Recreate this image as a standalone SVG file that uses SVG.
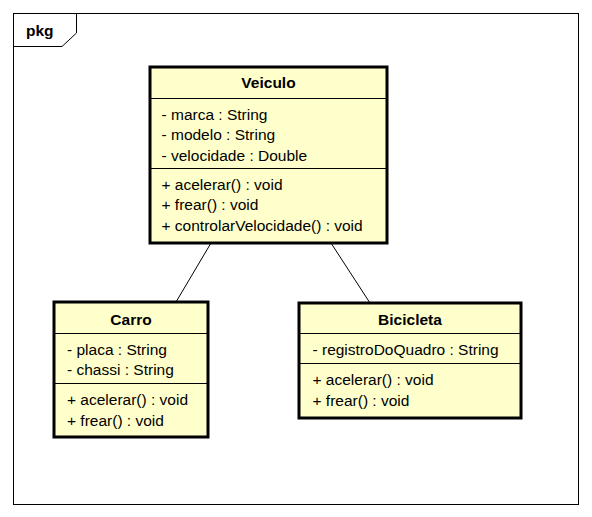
<svg xmlns="http://www.w3.org/2000/svg" width="592" height="517" viewBox="0 0 592 517">
<style>
.box{fill:#ffffcc;stroke:#000;stroke-width:3}
.div{stroke:#000;stroke-width:1}
.t{font-family:"Liberation Sans",Arial,sans-serif;font-size:15.5px;fill:#000}
.b{font-family:"Liberation Sans",Arial,sans-serif;font-size:15.5px;font-weight:bold;fill:#000;text-anchor:middle}
.edge{stroke:#000;stroke-width:1;fill:none}
</style>
<rect x="0" y="0" width="592" height="517" fill="#fff"/>
<g id="pkg">
<rect x="13.5" y="13.5" width="565" height="491" fill="none" stroke="#000" stroke-width="1"/>
<path d="M13.5 46.5 H62 L76.5 33 V13.5" fill="none" stroke="#000" stroke-width="1"/>
<text x="26" y="36" class="b" style="text-anchor:start">pkg</text>
</g>
<g id="connectors">
<line class="edge" x1="211" y1="243" x2="176" y2="302"/>
<line class="edge" x1="331" y1="243" x2="370" y2="303"/>
</g>
<g id="Veiculo">
<rect class="box" x="150" y="67" width="237" height="176"/>
<line class="div" x1="150" y1="98.5" x2="387" y2="98.5"/>
<line class="div" x1="150" y1="168.5" x2="387" y2="168.5"/>
<text class="b" x="268.5" y="88">Veiculo</text>
<text class="t" x="161.5" y="120">- marca : String</text>
<text class="t" x="161.5" y="140">- modelo : String</text>
<text class="t" x="161.5" y="161">- velocidade : Double</text>
<text class="t" x="161.5" y="190">+ acelerar() : void</text>
<text class="t" x="161.5" y="210">+ frear() : void</text>
<text class="t" x="161.5" y="231">+ controlarVelocidade() : void</text>
</g>
<g id="Carro">
<rect class="box" x="54" y="302" width="154" height="135"/>
<line class="div" x1="54" y1="333.5" x2="208" y2="333.5"/>
<line class="div" x1="54" y1="383.5" x2="208" y2="383.5"/>
<text class="b" x="131" y="325">Carro</text>
<text class="t" x="67" y="355">- placa : String</text>
<text class="t" x="67" y="375">- chassi : String</text>
<text class="t" x="67" y="405">+ acelerar() : void</text>
<text class="t" x="67" y="426">+ frear() : void</text>
</g>
<g id="Bicicleta">
<rect class="box" x="299" y="303" width="222" height="115"/>
<line class="div" x1="299" y1="333.5" x2="521" y2="333.5"/>
<line class="div" x1="299" y1="363.5" x2="521" y2="363.5"/>
<text class="b" x="410" y="325">Bicicleta</text>
<text class="t" x="312.5" y="355">- registroDoQuadro : String</text>
<text class="t" x="312.5" y="385">+ acelerar() : void</text>
<text class="t" x="312.5" y="406">+ frear() : void</text>
</g>
</svg>
